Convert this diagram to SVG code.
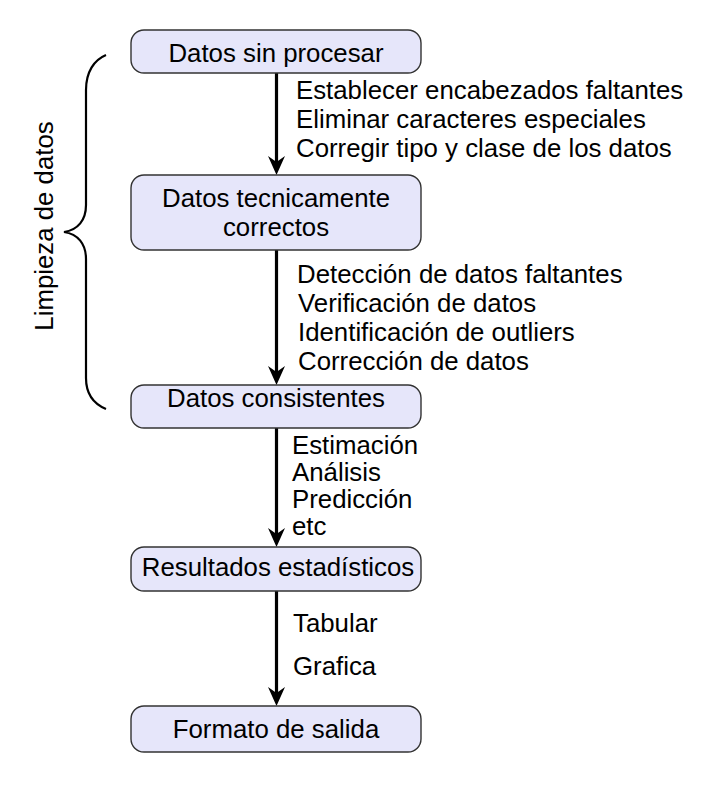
<svg xmlns="http://www.w3.org/2000/svg" width="718" height="791" viewBox="0 0 718 791">
<style>
.node rect{fill:#e6e6fa;stroke:#333;stroke-width:1.4}
text{font-family:"Liberation Sans",Arial,sans-serif;font-size:25.8px;fill:#000}
.nt{text-anchor:middle}
.edge{stroke:#000;stroke-width:3.2;fill:none}
.head{fill:#000}
</style>
<rect width="718" height="791" fill="#fff"/>
<g id="connectors">
<line class="edge" x1="276.5" y1="73" x2="276.5" y2="162"/>
<path class="head" d="M276.5,175 L268,156 L276.5,162 L285,156 Z"/>
<line class="edge" x1="276.5" y1="250" x2="276.5" y2="372"/>
<path class="head" d="M276.5,385 L268,366 L276.5,372 L285,366 Z"/>
<line class="edge" x1="276.5" y1="428" x2="276.5" y2="534"/>
<path class="head" d="M276.5,547 L268,528 L276.5,534 L285,528 Z"/>
<line class="edge" x1="276.5" y1="591" x2="276.5" y2="693"/>
<path class="head" d="M276.5,706 L268,687 L276.5,693 L285,687 Z"/>
</g>
<g id="labels">
<text x="296" y="99">Establecer encabezados faltantes</text>
<text x="296" y="128">Eliminar caracteres especiales</text>
<text x="296" y="157">Corregir tipo y clase de los datos</text>
<text x="297" y="283">Detección de datos faltantes</text>
<text x="298" y="312">Verificación de datos</text>
<text x="298" y="341">Identificación de outliers</text>
<text x="298" y="370">Corrección de datos</text>
<text x="292" y="454">Estimación</text>
<text x="292" y="481">Análisis</text>
<text x="292" y="508">Predicción</text>
<text x="292" y="535">etc</text>
<text x="293" y="632">Tabular</text>
<text x="293" y="675">Grafica</text>
</g>
<g id="node1" class="node">
<rect x="131" y="30" width="290" height="43" rx="13"/>
<text class="nt" x="276" y="62">Datos sin procesar</text>
</g>
<g id="node2" class="node">
<rect x="131" y="175" width="290" height="75" rx="13"/>
<text class="nt" x="276" y="207">Datos tecnicamente</text>
<text class="nt" x="276" y="236">correctos</text>
</g>
<g id="node3" class="node">
<rect x="131" y="385" width="290" height="43" rx="13"/>
<text class="nt" x="276" y="407">Datos consistentes</text>
</g>
<g id="node4" class="node">
<rect x="131" y="547" width="290" height="44" rx="13"/>
<text class="nt" x="278" y="576">Resultados estadísticos</text>
</g>
<g id="node5" class="node">
<rect x="131" y="706" width="290" height="46" rx="13"/>
<text class="nt" x="276" y="738">Formato de salida</text>
</g>
<g id="brace">
<path d="M106,55 C94,60 86,72 86,90 L86,205 C86,220 78,230 64,232 C78,234 86,244 86,259 L86,378 C86,394 94,404 106,409" fill="none" stroke="#000" stroke-width="2.2"/>
<text transform="translate(53,226) rotate(-90)" text-anchor="middle">Limpieza de datos</text>
</g>
</svg>
